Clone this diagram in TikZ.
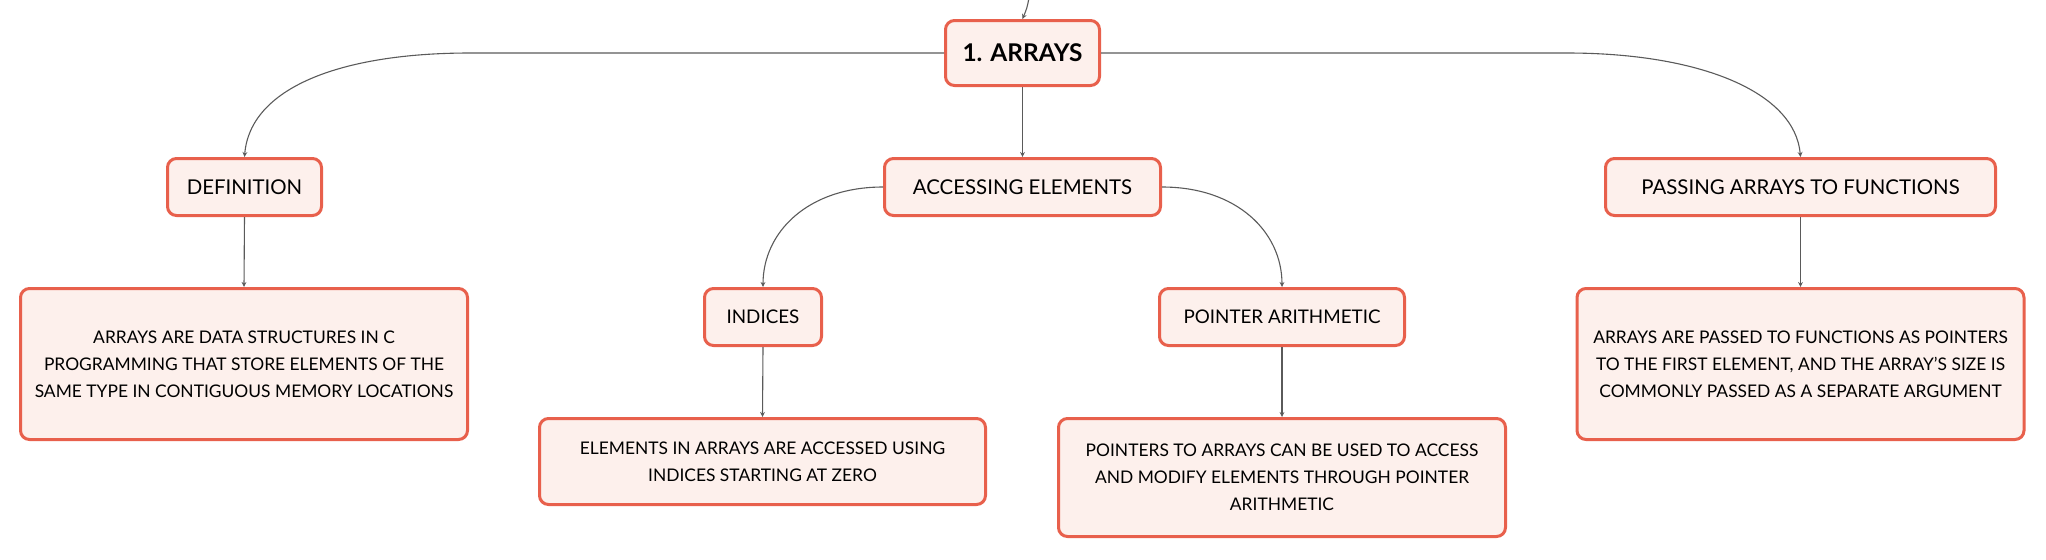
\documentclass[tikz,border=0pt]{standalone}
\usepackage{fontspec}
\setmainfont{Lato}
\usetikzlibrary{arrows.meta}
\definecolor{boxred}{HTML}{E8604C}
\definecolor{boxfill}{HTML}{FDF0EC}
\definecolor{linegray}{HTML}{5A5A5A}
\tikzset{
  mbox/.style={draw=boxred, fill=boxfill, line width=1.5pt, rounded corners=4.5pt,
    inner sep=0pt, align=center, text=black},
  headbox/.style={mbox, font=\fontsize{10.2}{12}\selectfont, minimum height=28.5pt},
  bodybox/.style={mbox, font=\fontsize{8.7}{13.5}\selectfont},
  conn/.style={draw=linegray, line width=0.55pt, -{Stealth[length=2.5pt,width=2.4pt]}}
}
\begin{document}
\begin{tikzpicture}[x=0.5pt,y=-0.5pt]
\useasboundingbox (0,0) rectangle (2046,559);
% top level
\node[mbox, font=\fontsize{12.2}{14}\selectfont\bfseries, minimum width=77pt, minimum height=32.5pt] (arrays) at (1022.5,53) {1. ARRAYS};
% second level
\node[headbox, minimum width=77pt] (def) at (244.5,187) {DEFINITION};
\node[headbox, minimum width=138pt] (acc) at (1022.5,187) {ACCESSING ELEMENTS};
\node[headbox, minimum width=195pt] (pass) at (1800.5,187) {PASSING ARRAYS TO FUNCTIONS};
% third level
\node[bodybox, minimum width=223.5pt, minimum height=75.5pt] (defbox) at (244,364)
  {ARRAYS ARE DATA STRUCTURES IN C\\PROGRAMMING THAT STORE ELEMENTS OF THE\\SAME TYPE IN CONTIGUOUS MEMORY LOCATIONS};
\node[headbox, font=\fontsize{9.4}{12}\selectfont, minimum width=58.5pt] (ind) at (763,317) {INDICES};
\node[headbox, font=\fontsize{9.4}{12}\selectfont, minimum width=122.5pt] (pa) at (1282,317) {POINTER ARITHMETIC};
\node[bodybox, minimum width=223.5pt, minimum height=75.5pt] (passbox) at (1800.5,364)
  {ARRAYS ARE PASSED TO FUNCTIONS AS POINTERS\\TO THE FIRST ELEMENT, AND THE ARRAY'S SIZE IS\\COMMONLY PASSED AS A SEPARATE ARGUMENT};
% fourth level
\node[bodybox, minimum width=223pt, minimum height=43pt] (indbox) at (762.5,461.5)
  {ELEMENTS IN ARRAYS ARE ACCESSED USING\\INDICES STARTING AT ZERO};
\node[bodybox, minimum width=223.5pt, minimum height=59pt] (pabox) at (1282,477.5)
  {POINTERS TO ARRAYS CAN BE USED TO ACCESS\\AND MODIFY ELEMENTS THROUGH POINTER\\ARITHMETIC};
% connectors
\coordinate (parent) at (1029,-2);
\draw[conn] (parent) .. controls (1027,8) .. (arrays.north);
\draw[conn] (arrays.west) -- (470,53) .. controls (340,53) and (250,88) .. (def.north);
\draw[conn] (arrays.east) -- (1567,53) .. controls (1700,53) and (1795,92) .. (pass.north);
\draw[conn] (arrays.south) -- (acc.north);
\draw[conn] (acc.west) .. controls +(-75,0) and +(0,-55) .. (ind.north);
\draw[conn] (acc.east) .. controls +(75,0) and +(0,-55) .. (pa.north);
\draw[conn] (def.south) -- (defbox.north);
\draw[conn] (pass.south) -- (passbox.north);
\draw[conn] (ind.south) -- (indbox.north);
\draw[conn] (pa.south) -- (pabox.north);
\end{tikzpicture}
\end{document}
